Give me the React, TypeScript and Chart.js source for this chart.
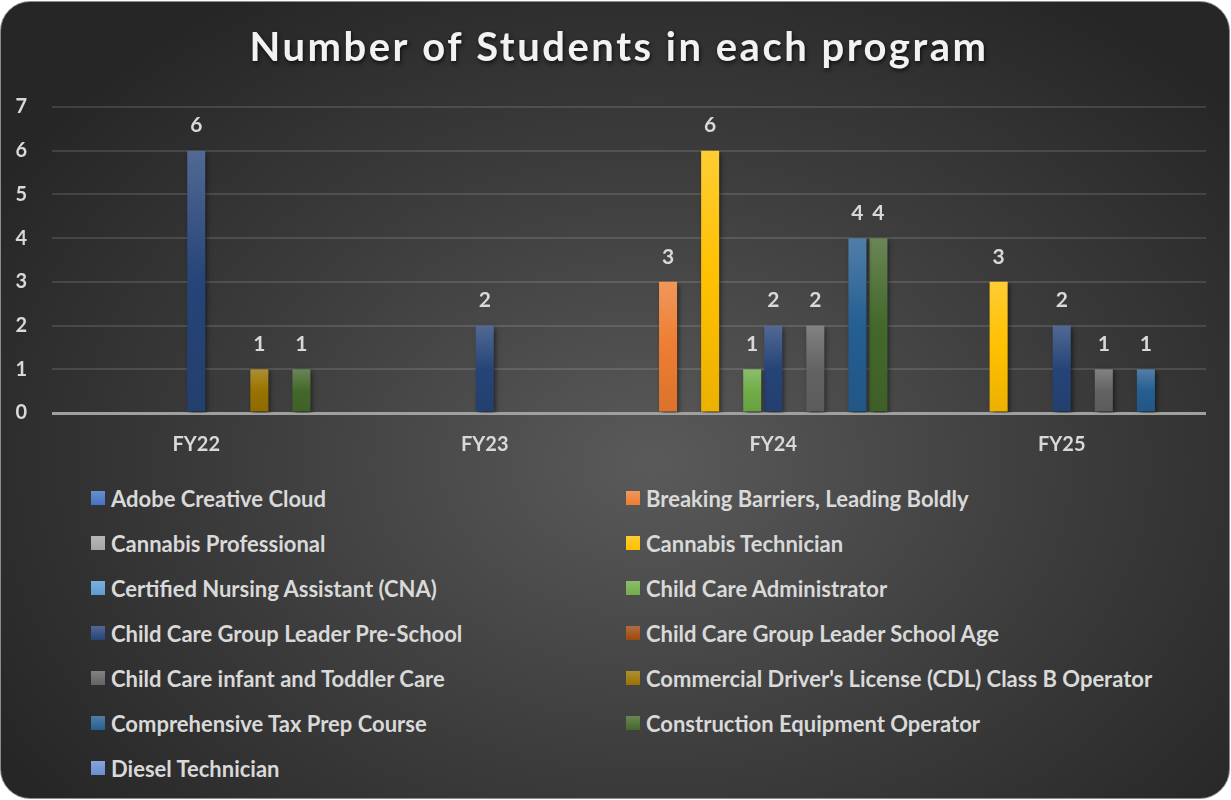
import React, { useEffect, useRef } from "react";
import { Chart, registerables } from "chart.js";
Chart.register(...registerables);

const titleText = "Number of Students in each program";
const categories = ["FY22", "FY23", "FY24", "FY25"];
const programs = [
  "Adobe Creative Cloud",
  "Breaking Barriers, Leading Boldly",
  "Cannabis Professional",
  "Cannabis Technician",
  "Certified Nursing Assistant (CNA)",
  "Child Care Administrator",
  "Child Care Group Leader Pre-School",
  "Child Care Group Leader School Age",
  "Child Care infant and Toddler Care",
  "Commercial Driver's License (CDL) Class B Operator",
  "Comprehensive Tax Prep Course",
  "Construction Equipment Operator",
  "Diesel Technician",
];
const adobe = [0, 0, 0, 0];
const breakingBarriers = [0, 0, 3, 0];
const cannabisProfessional = [0, 0, 0, 0];
const cannabisTechnician = [0, 0, 6, 3];
const cna = [0, 0, 0, 0];
const childCareAdmin = [0, 0, 1, 0];
const ccglPreSchool = [6, 2, 2, 2];
const ccglSchoolAge = [0, 0, 0, 0];
const infantToddler = [0, 0, 2, 1];
const cdl = [1, 0, 0, 0];
const taxPrep = [0, 0, 4, 1];
const construction = [1, 0, 4, 0];
const diesel = [0, 0, 0, 0];
const seriesValues = [
  adobe, breakingBarriers, cannabisProfessional, cannabisTechnician, cna,
  childCareAdmin, ccglPreSchool, ccglSchoolAge, infantToddler, cdl,
  taxPrep, construction, diesel,
];
const colors = [
  "#4472C4", "#ED7D31", "#A5A5A5", "#FFC000", "#5B9BD5", "#70AD47",
  "#264478", "#9E480E", "#636363", "#997300", "#255E91", "#43682B", "#698ED0",
];
const yMin = 0;
const yMax = 7;
const yStep = 1;

const FONT = "Lato, 'Open Sans', sans-serif";

function mix(hex: string, target: number, amt: number) {
  const n = parseInt(hex.slice(1), 16);
  const r = (n >> 16) & 255, g = (n >> 8) & 255, b = n & 255;
  const f = (c: number) => Math.round(c + (target - c) * amt);
  return `rgb(${f(r)},${f(g)},${f(b)})`;
}

export default function App() {
  const ref = useRef<HTMLCanvasElement | null>(null);
  useEffect(() => {
    if (!ref.current) return;
    const titlePlugin = {
      id: "customTitle",
      afterDraw(chart: any) {
        const ctx = chart.ctx;
        ctx.save();
        ctx.font = `bold 40px ${FONT}`;
        (ctx as any).letterSpacing = "2.5px";
        ctx.fillStyle = "#f2f2f2";
        ctx.textAlign = "center";
        ctx.textBaseline = "middle";
        ctx.shadowColor = "rgba(0,0,0,0.7)";
        ctx.shadowBlur = 4;
        ctx.shadowOffsetX = 1;
        ctx.shadowOffsetY = 2;
        ctx.fillText(titleText, 619, 48);
        ctx.restore();
      },
    };
    const barPlugin = {
      id: "barDeco",
      beforeDatasetsDraw(chart: any) {
        const ctx = chart.ctx;
        ctx.save();
        ctx.shadowColor = "rgba(0,0,0,0.55)";
        ctx.shadowBlur = 5;
        ctx.shadowOffsetX = 2;
        ctx.shadowOffsetY = 2;
      },
      afterDatasetsDraw(chart: any) {
        const ctx = chart.ctx;
        ctx.restore();
        ctx.save();
        ctx.font = `bold 21px ${FONT}`;
        ctx.fillStyle = "#d9d9d9";
        ctx.textAlign = "center";
        ctx.textBaseline = "middle";
        chart.data.datasets.forEach((ds: any, i: number) => {
          const meta = chart.getDatasetMeta(i);
          meta.data.forEach((bar: any, j: number) => {
            const v = ds.data[j];
            if (!v) return;
            ctx.fillText(String(v), bar.x, bar.y - 25);
          });
        });
        ctx.restore();
      },
    };
    const chart = new Chart(ref.current, {
      type: "bar",
      data: {
        labels: categories,
        datasets: programs.map((p, i) => ({
          label: p,
          data: seriesValues[i],
          backgroundColor: (c: any) => {
            const base = colors[i];
            const chart = c.chart;
            if (!chart.chartArea || c.raw === undefined || !c.raw) return base;
            const y = chart.scales.y;
            const top = y.getPixelForValue(c.raw);
            const bottom = y.getPixelForValue(0);
            const g = chart.ctx.createLinearGradient(0, top, 0, bottom);
            g.addColorStop(0, mix(base, 255, 0.2));
            g.addColorStop(0.5, base);
            g.addColorStop(1, mix(base, 0, 0.08));
            return g;
          },
          borderWidth: 0,
          categoryPercentage: 0.948,
          barPercentage: 0.857,
        })),
      },
      options: {
        responsive: false,
        animation: false,
        layout: { padding: { top: 107, left: 10, right: 25, bottom: 0 } },
        plugins: {
          legend: { display: false },
          title: { display: false },
          tooltip: { enabled: false },
        },
        scales: {
          x: {
            grid: { display: false, drawTicks: false },
            border: { display: false },
            ticks: {
              color: "#d9d9d9",
              font: { family: FONT, size: 20, weight: "bold" },
              padding: 20,
            },
            afterFit: (s: any) => { s.height = 57; },
          },
          y: {
            min: yMin,
            max: yMax,
            ticks: {
              stepSize: yStep,
              color: "#d9d9d9",
              font: { family: FONT, size: 20, weight: "bold" },
              padding: 25,
            },
            grid: {
              drawTicks: false,
              color: (c: any) => (c.tick && c.tick.value === 0 ? "#a0a0a0" : "rgba(255,255,255,0.12)"),
              lineWidth: (c: any) => (c.tick && c.tick.value === 0 ? 3 : 2),
            },
            border: { display: false },
            afterFit: (s: any) => { s.width = 42; },
          },
        },
      },
      plugins: [titlePlugin, barPlugin],
    } as any);
    return () => chart.destroy();
  }, []);

  return (
    <div style={{ position: "absolute", left: 0, top: 0, width: 1231, height: 800, background: "#fff", overflow: "hidden" }}>
      <div
        style={{
          position: "absolute",
          left: 0,
          top: 1,
          width: 1230,
          height: 798,
          boxSizing: "border-box",
          border: "1.5px solid #8c8c8c",
          borderRadius: 30,
          background: "radial-gradient(ellipse 62% 70% at 53% 58%, #5a5a5a 0%, #3c3c3c 55%, #262626 100%)",
        }}
      />
      <canvas ref={ref} width={1231} height={470} style={{ position: "absolute", left: 0, top: 0, width: 1231, height: 470 }} />
      {programs.map((p, i) => {
        const col = i % 2;
        const row = Math.floor(i / 2);
        return (
          <div
            key={p}
            style={{
              position: "absolute",
              left: col ? 626 : 91,
              top: 498 + row * 45 - 15,
              height: 30,
              display: "flex",
              alignItems: "center",
              fontFamily: FONT,
              fontWeight: 700,
              fontSize: 22,
              color: "#d9d9d9",
              whiteSpace: "nowrap",
            }}
          >
            <span
              style={{
                display: "inline-block",
                width: 14,
                height: 14,
                marginRight: 6,
                background: `linear-gradient(${mix(colors[i], 255, 0.2)}, ${colors[i]})`,
              }}
            />
            {p}
          </div>
        );
      })}
    </div>
  );
}
